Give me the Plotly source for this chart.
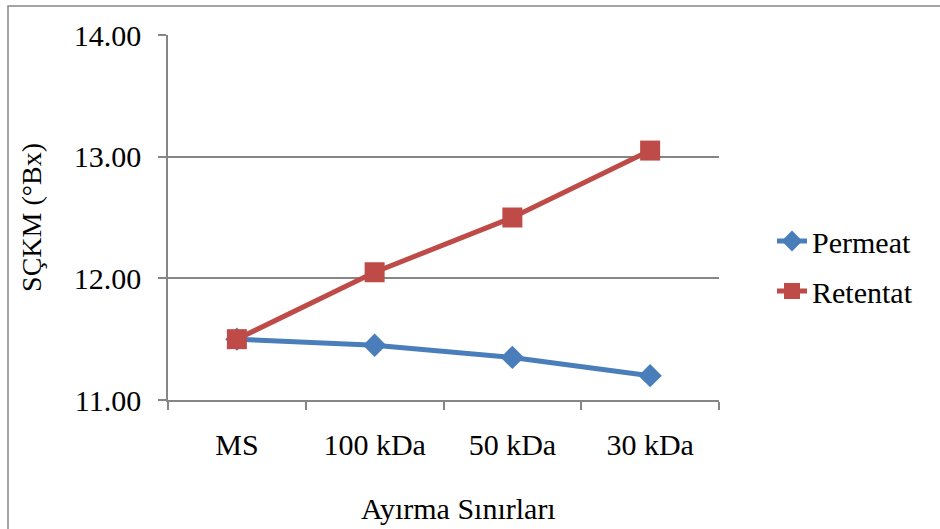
import plotly.graph_objects as go

categories = ["MS", "100 kDa", "50 kDa", "30 kDa"]
permeat = [11.50, 11.45, 11.35, 11.20]
retentat = [11.50, 12.05, 12.50, 13.05]
y_ticks = [11, 12, 13, 14]
y_tick_labels = ["11.00", "12.00", "13.00", "14.00"]

FONT = "Liberation Serif"
GRID = "#868686"

fig = go.Figure()
fig.add_trace(go.Scatter(
    x=categories, y=permeat, name="Permeat", mode="lines+markers",
    line=dict(color="#4A7EBB", width=5),
    marker=dict(symbol="diamond", size=18, color="#4A7EBB"),
    legendgroup="a",
))
fig.add_trace(go.Scatter(
    x=categories, y=retentat, name="Retentat", mode="lines+markers",
    line=dict(color="#BE4B48", width=5),
    marker=dict(symbol="square", size=20, color="#BE4B48"),
    legendgroup="b",
))

fig.update_layout(
    width=940, height=529,
    margin=dict(l=168, r=221, t=35, b=129),
    paper_bgcolor="white", plot_bgcolor="white",
    font=dict(family=FONT, size=30, color="black"),
    showlegend=True,
    legend=dict(x=(772 - 168) / 551, y=(400 - 266) / 365, xanchor="left", yanchor="middle",
                font=dict(family=FONT, size=30), tracegroupgap=8, traceorder="grouped",
                bgcolor="rgba(0,0,0,0)"),
    xaxis=dict(
        type="category", range=[-0.5, 3.5], tickson="boundaries",
        ticks="outside", ticklen=8, tickcolor=GRID, tickwidth=1.5,
        showline=True, linecolor=GRID, linewidth=1.5,
        showgrid=False, zeroline=False,
        tickfont=dict(family=FONT, size=30), ticklabelstandoff=17,
    ),
    yaxis=dict(
        range=[11, 14], tickvals=y_ticks, ticktext=y_tick_labels,
        ticks="outside", ticklen=8, tickcolor=GRID, tickwidth=1.5,
        showline=True, linecolor=GRID, linewidth=1.5,
        showgrid=True, gridcolor=GRID, gridwidth=1.5, zeroline=False,
        tickfont=dict(family=FONT, size=30), ticklabelstandoff=11,
        title=dict(text="SÇKM (°Bx)", font=dict(family=FONT, size=28), standoff=24),
    ),
    annotations=[dict(text="Ayırma Sınırları", xref="paper", yref="paper",
                      x=(458 - 168) / 551, y=(400 - 508) / 365,
                      xanchor="center", yanchor="middle", showarrow=False,
                      font=dict(family=FONT, size=30, color="black"))],
    shapes=[dict(type="rect", xref="paper", yref="paper",
                 x0=(8 - 168) / 551, x1=(960 - 168) / 551,
                 y0=(400 - 560) / 365, y1=(400 - 6) / 365,
                 line=dict(color="#868686", width=1.5), fillcolor="rgba(0,0,0,0)",
                 layer="below")],
)

fig.write_html("out.html")
